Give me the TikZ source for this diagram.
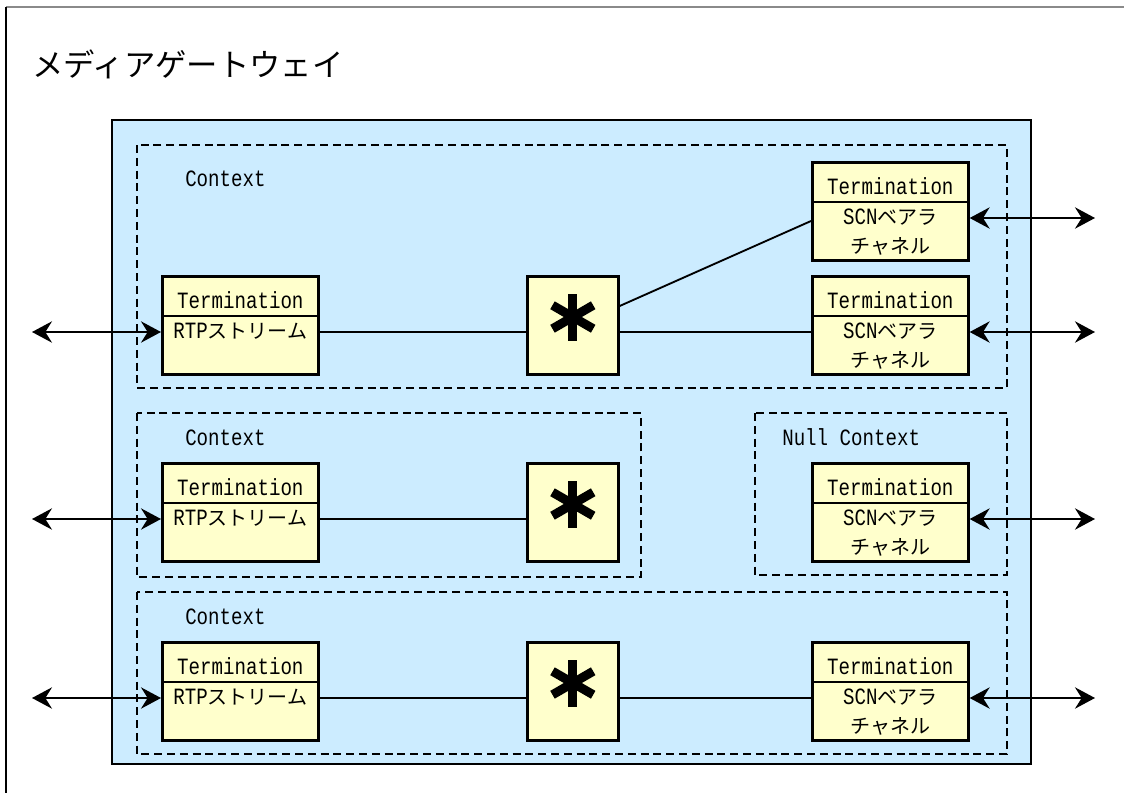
\documentclass[tikz,border=0pt]{standalone}
\usepackage{fontspec}
\setmainfont{Liberation Mono}[FakeStretch=0.82]
\newfontfamily\jpfont{Noto Sans CJK JP}
\usetikzlibrary{arrows.meta,calc}

\definecolor{gwblue}{HTML}{CCECFF}
\definecolor{tyellow}{HTML}{FFFFCC}
\definecolor{framegray}{HTML}{8A8A8A}

% Latin label size and Japanese run
\newcommand\latsize{\fontsize{17.5pt}{20pt}\selectfont}
\newcommand\jp[1]{{\jpfont\fontsize{15pt}{18pt}\selectfont #1}}

\tikzset{
  tbox/.style={draw, line width=2pt, fill=tyellow, minimum width=117pt,
    minimum height=73.5pt, inner sep=0pt, anchor=north west},
  starbox/.style={draw, line width=2pt, fill=tyellow, minimum width=68.25pt,
    minimum height=73.5pt, inner sep=0pt, anchor=north west},
  lbl/.style={anchor=base, inner sep=0pt, font=\latsize},
  ctxlbl/.style={anchor=base west, inner sep=0pt, font=\latsize},
  divider/.style={line width=1pt},
  ctxframe/.style={line width=1.3pt, dash pattern=on 6pt off 3.6pt},
  wire/.style={line width=1.4pt},
  tip/.tip={Stealth[length=15pt,width=16pt,inset=5pt]},
  biarrow/.style={wire, tip-tip},
  spoke/.style={line width=6.75pt}
}

% Termination box: name, position, second line, third line
\newcommand\termbox[4]{%
  \node[tbox] (#1) at (#2) {};
  \draw[divider] ($(#1.north west)+(0,41)$) -- ($(#1.north east)+(0,41)$);
  \node[lbl] at ($(#1.north)+(0,33)$) {Termination};
  \node[lbl] at ($(#1.north)+(0,63)$) {#3};
  \node[lbl] at ($(#1.north)+(0,92)$) {#4};
  \coordinate (#1-w) at ($(#1.north west)+(0,57)$);
  \coordinate (#1-e) at ($(#1.north east)+(0,57)$);
}

% Switch box with a heavy asterisk
\newcommand\starnode[2]{%
  \node[starbox] (#1) at (#2) {};
  \coordinate (#1-c) at ($(#1.north)+(0,42)$);
  \foreach \a in {90,30,-30}
    \draw[spoke] ($(#1-c)+(\a:23.5)$) -- ($(#1-c)+(\a+180:23.5)$);
  \coordinate (#1-w) at ($(#1.north west)+(0,57)$);
  \coordinate (#1-e) at ($(#1.north east)+(0,57)$);
  \coordinate (#1-d) at ($(#1.north east)+(0,31)$);
}

\begin{document}
\begin{tikzpicture}[x=0.75pt, y=-0.75pt]
\useasboundingbox (0,0) rectangle (1124,793);

% page frame
\draw[framegray, line width=1pt] (6,7) -- (1124,7);
\draw[black, line width=0.9pt] (6,7) -- (6,793);

\node[anchor=base west, inner sep=0pt] (title) at (32,76)
  {\jpfont\fontsize{23.5pt}{26pt}\selectfont メディアゲートウェイ};

% media gateway body
\draw[fill=gwblue, line width=2.2pt] (112,120) rectangle (1031,764);

% contexts
\draw[ctxframe] (137,145) rectangle (1007,388);
\draw[ctxframe] (137,413) rectangle (641,577);
\draw[ctxframe] (755,413) rectangle (1007,575);
\draw[ctxframe] (137,592) rectangle (1007,754);

\node[ctxlbl] (c1) at (185,186) {Context};
\node[ctxlbl] (c2) at (185,445) {Context};
\node[ctxlbl] (c0) at (782,445) {Null Context};
\node[ctxlbl] (c3) at (185,624) {Context};

% row 1
\termbox{L1}{161,275}{RTP\jp{ストリーム}}{}
\starnode{S1}{526,275}
\termbox{R1a}{811,161}{SCN\jp{ベアラ}}{\jp{チャネル}}
\termbox{R1b}{811,275}{SCN\jp{ベアラ}}{\jp{チャネル}}
\coordinate (R1a-d) at ($(R1a.north west)+(0,60)$);

% row 2
\termbox{L2}{161,462}{RTP\jp{ストリーム}}{}
\starnode{S2}{526,462}
\termbox{N}{811,462}{SCN\jp{ベアラ}}{\jp{チャネル}}

% row 3
\termbox{L3}{161,641}{RTP\jp{ストリーム}}{}
\starnode{S3}{526,641}
\termbox{R3}{811,641}{SCN\jp{ベアラ}}{\jp{チャネル}}

% internal wiring
\draw[wire] (L1-e) -- (S1-w);
\draw[wire] (S1-e) -- (R1b-w);
\draw[wire] (S1-d) -- (R1a-d);
\draw[wire] (L2-e) -- (S2-w);
\draw[wire] (L3-e) -- (S3-w);
\draw[wire] (S3-e) -- (R3-w);

% external ports
\coordinate (pL1) at (32,332);
\coordinate (pL2) at (32,519);
\coordinate (pL3) at (32,698);
\coordinate (pR1a) at (1095,218);
\coordinate (pR1b) at (1095,332);
\coordinate (pN) at (1095,519);
\coordinate (pR3) at (1095,698);

\draw[biarrow] (pL1) -- (L1-w);
\draw[biarrow] (pL2) -- (L2-w);
\draw[biarrow] (pL3) -- (L3-w);
\draw[biarrow] (R1a-e) -- (pR1a);
\draw[biarrow] (R1b-e) -- (pR1b);
\draw[biarrow] (N-e) -- (pN);
\draw[biarrow] (R3-e) -- (pR3);
\end{tikzpicture}
\end{document}
